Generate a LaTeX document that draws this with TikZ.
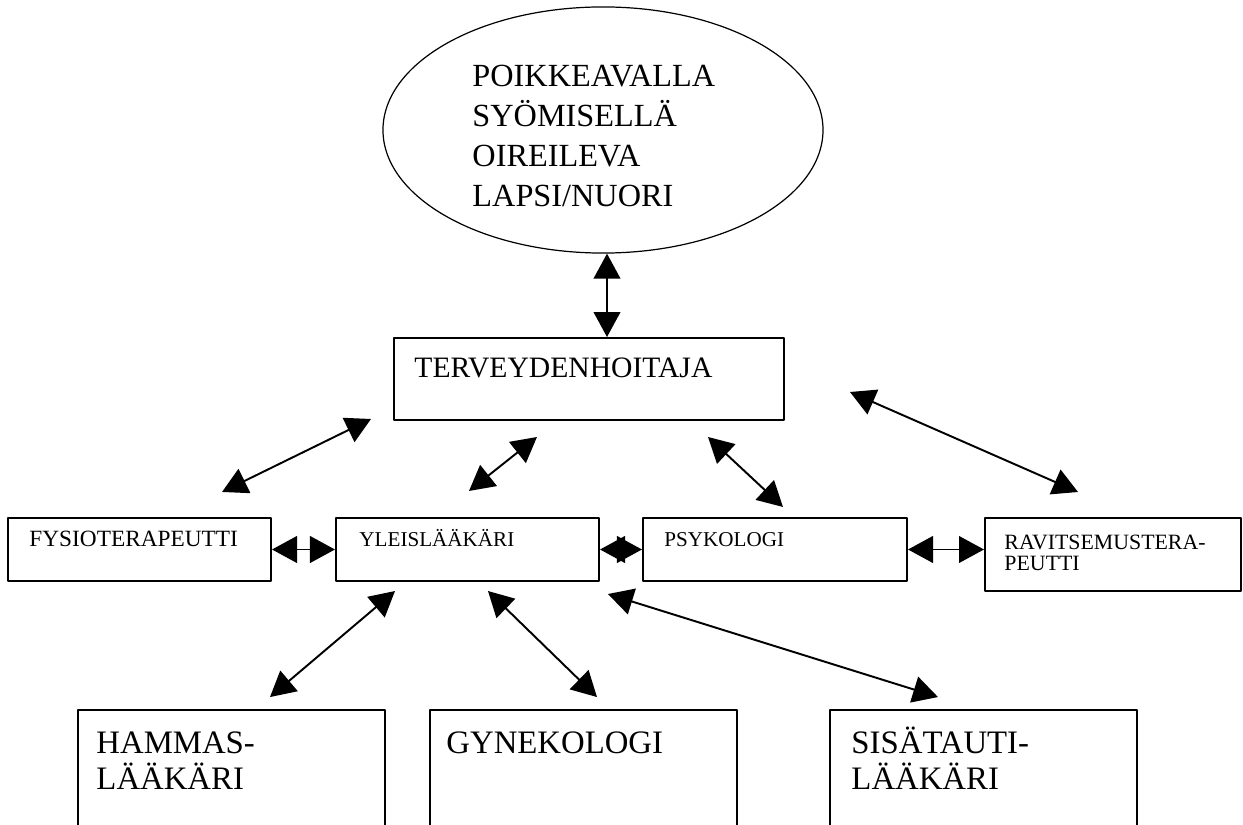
\documentclass[tikz,border=0pt]{standalone}
\usepackage{fontspec}
\setmainfont{Liberation Serif}
\usetikzlibrary{shapes.geometric,arrows.meta}

\begin{document}
\begin{tikzpicture}[x=0.412pt,y=-0.412pt,join=round]
    \tikzstyle{box} = [draw,line width=0.8pt,inner sep=0pt,minimum width=108.4pt,minimum height=26pt]
    \tikzstyle{bigbox} = [box,minimum width=126.5pt,minimum height=65.9pt]
    \tikzstyle{txt} = [inner sep=0pt,anchor=base west,align=left]
    \tikzstyle{dbl} = [{Triangle[length=10.3pt,width=11pt]}-{Triangle[length=10.3pt,width=11pt]},line width=0.8pt]

    \useasboundingbox (0,0) rectangle (1243,825);
    \clip (0,0) rectangle (1243,825);

    % the child and the nurse
    \node[ellipse,draw,line width=0.5pt,minimum width=181.3pt,minimum height=101.4pt] (lapsi) at (603,130) {};
    \node[txt,font=\fontsize{13.3}{16.5}\selectfont] (lapsitxt) at ([shift={(-131,77)}]lapsi.center)
        {POIKKEAVALLA\\SYÖMISELLÄ\\OIREILEVA\\LAPSI/NUORI};
    \node[box,minimum width=160.7pt,minimum height=33.8pt] (terv) at (589,379) {};
    \node[txt,font=\fontsize{12.2}{14}\selectfont] (tervtxt) at ([shift={(21,40)}]terv.north west) {TERVEYDENHOITAJA};

    % middle row
    \node[box] (fysio) at (139.5,549.5) {};
    \node[box] (ylei) at (467.5,549.5) {};
    \node[box,minimum width=108.8pt] (psyk) at (775,549.5) {};
    \node[box,minimum width=105.5pt,minimum height=30.1pt] (ravit) at (1113,554.5) {};
    \path[font=\fontsize{8.7}{9}\selectfont]
        ([shift={(22,30)}]fysio.north west) node[txt,font=\fontsize{9.6}{9}\selectfont] (fysiotxt) {FYSIOTERAPEUTTI}
        ([shift={(24,30)}]ylei.north west) node[txt] (yleitxt) {YLEISLÄÄKÄRI}
        ([shift={(22,30)}]psyk.north west) node[txt] (psyktxt) {PSYKOLOGI}
        ([shift={(20,54)}]ravit.north west) node[txt,font=\fontsize{9}{9}\selectfont] (ravittxt) {RAVITSEMUSTERA-\\PEUTTI};

    % bottom row
    \node[bigbox] (hammas) at (231.5,790) {};
    \node[bigbox] (gyne) at (583.5,790) {};
    \node[bigbox] (sisa) at (983.5,790) {};
    \path[font=\fontsize{13.5}{14.8}\selectfont]
        ([shift={(19,80)}]hammas.north west) node[txt] (hammastxt) {HAMMAS-\\LÄÄKÄRI}
        ([shift={(17,44)}]gyne.north west) node[txt] (gynetxt) {GYNEKOLOGI}
        ([shift={(22,80)}]sisa.north west) node[txt] (sisatxt) {SISÄTAUTI-\\LÄÄKÄRI};

    % arrows
    \draw[dbl] ([shift={(4,0)}]lapsi.south) -- ([shift={(18,0)}]terv.north);
    \draw[dbl] ([shift={(-22,-2)}]terv.south west) -- ([shift={(-50,-25)}]fysio.north east);
    \draw[dbl] ([shift={(-52,16)}]terv.south) -- ([shift={(1.5,-26)}]ylei.north);
    \draw[dbl] ([shift={(119,16)}]terv.south) -- ([shift={(8,-10)}]psyk.north);
    \draw[dbl] ([shift={(65,13)}]terv.east) -- ([shift={(-35,-25)}]ravit.north);
    \draw[dbl] (fysio.east) -- (ylei.west);
    \draw[dbl] (ylei.east) -- (psyk.west);
    \draw[dbl] (psyk.east) -- (psyk.east -| ravit.west);
    \draw[dbl] ([shift={(-72.5,9)}]ylei.south) -- ([shift={(38.5,-12)}]hammas.north);
    \draw[dbl] ([shift={(20.5,9)}]ylei.south) -- ([shift={(13.5,-12)}]gyne.north);
    \draw[dbl] ([shift={(140.5,12)}]ylei.south) -- ([shift={(-45.5,-12)}]sisa.north);
\end{tikzpicture}
\end{document}
